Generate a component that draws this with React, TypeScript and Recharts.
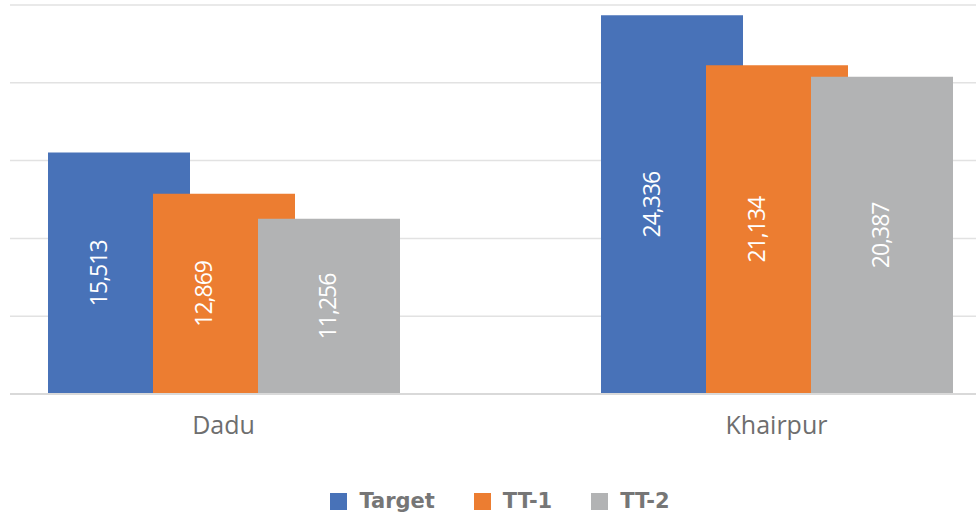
import { BarChart, Bar, XAxis, YAxis, CartesianGrid, Legend, LabelList } from "recharts";

/* ─── values ─── */
const categories = ["Dadu", "Khairpur"];
const seriesNames = ["Target", "TT-1", "TT-2"];
const targetValues = [15513, 24336];
const tt1Values = [12869, 21134];
const tt2Values = [11256, 20387];
const yTicks = [0, 5000, 10000, 15000, 20000, 25000];

const colors = ["#4872B8", "#EC7D31", "#B2B3B4"];
const BAR_SIZE = 142;
const BAR_GAP = -37;

const data = categories.map((name, i) => ({
  name,
  [seriesNames[0]]: targetValues[i],
  [seriesNames[1]]: tt1Values[i],
  [seriesNames[2]]: tt2Values[i],
}));

// labels sit in the middle of the part of the bar that isn't covered by the next one
function makeLabel(covered: boolean) {
  return (props: any) => {
    const x = Number(props.x);
    const y = Number(props.y);
    const w = Number(props.width);
    const h = Number(props.height);
    const visible = covered ? w + BAR_GAP : w;
    const cx = x + visible / 2 - 2;
    const cy = y + h / 2;
    return (
      <text x={cx} y={cy} transform={`rotate(-90 ${cx} ${cy})`} textAnchor="middle"
        dominantBaseline="central" fill="#fff" fontSize={23} letterSpacing={-1}
        fontFamily="'Open Sans', sans-serif">
        {Number(props.value).toLocaleString("en-US")}
      </text>
    );
  };
}

function LegendBox() {
  return (
    <div style={{ display: "flex", justifyContent: "center", alignItems: "center", height: 28,
      paddingLeft: 24, fontFamily: "'DejaVu Sans', sans-serif", fontWeight: "bold", fontSize: 21, color: "#767676" }}>
      {seriesNames.map((s, i) => (
        <div key={s} style={{ display: "flex", alignItems: "center", marginLeft: i ? 39 : 0, lineHeight: "28px" }}>
          <span style={{ width: 17, height: 17, background: colors[i], marginRight: 12, display: "inline-block" }} />
          {s}
        </div>
      ))}
    </div>
  );
}

export default function App() {
  return (
    <div style={{ position: "absolute", left: 0, top: 0, width: 976, height: 516, background: "#fff" }}>
      <BarChart width={976} height={516} data={data} barGap={BAR_GAP}
        margin={{ top: 5, right: 0, left: 10, bottom: 0 }}>
        <CartesianGrid vertical={false} stroke="#e2e2e2" strokeWidth={1.5} />
        <YAxis hide domain={[0, 25000]} ticks={yTicks} />
        <XAxis dataKey="name" height={94} padding={{ left: -63, right: -77 }}
          tickLine={false} tickSize={0} tickMargin={22}
          axisLine={{ stroke: "#d9d9d9", strokeWidth: 2 }}
          tick={{ fill: "#6e6e6e", fontSize: 25, fontFamily: "'Open Sans', sans-serif" }} />
        <Legend verticalAlign="bottom" content={() => <LegendBox />}
          wrapperStyle={{ left: 0, width: 976, top: 487, bottom: "auto", height: 28 }} />
        {seriesNames.map((s, i) => (
          <Bar key={s} dataKey={s} fill={colors[i]} barSize={BAR_SIZE} isAnimationActive={false}>
            <LabelList dataKey={s} content={makeLabel(i < seriesNames.length - 1)} />
          </Bar>
        ))}
      </BarChart>
    </div>
  );
}
